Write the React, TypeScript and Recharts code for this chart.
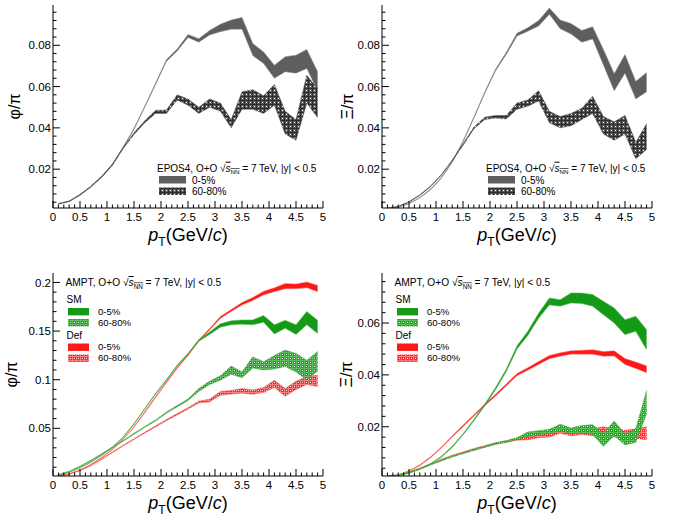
import React from "react";
import { ComposedChart, Area, XAxis, YAxis, Legend } from "recharts";

const FONT = '"Liberation Sans", Arial, Helvetica, sans-serif';

// pT bin centres, GeV/c
const ptBins = [
  0.1, 0.3, 0.5, 0.7, 0.9, 1.1, 1.3, 1.5, 1.7, 1.9, 2.1, 2.3, 2.5, 2.7, 2.9,
  3.1, 3.3, 3.5, 3.7, 3.9, 4.1, 4.3, 4.5, 4.7, 4.9,
];

const xMajor = [0, 0.5, 1, 1.5, 2, 2.5, 3, 3.5, 4, 4.5, 5];
const xMajorLabels = ["0", "0.5", "1", "1.5", "2", "2.5", "3", "3.5", "4", "4.5", "5"];

const yMajorEpos = [0.02, 0.04, 0.06, 0.08];
const yLabelsEpos = ["0.02", "0.04", "0.06", "0.08"];
const yMajorAmptPhi = [0.05, 0.1, 0.15, 0.2];
const yLabelsAmptPhi = ["0.05", "0.1", "0.15", "0.2"];
const yMajorAmptXi = [0.02, 0.04, 0.06];
const yLabelsAmptXi = ["0.02", "0.04", "0.06"];

const yDomainEpos = [0.0012, 0.0995];
const yDomainAmptPhi = [0.001, 0.2097];
const yDomainAmptXi = [0.001, 0.0793];

const centLabels = ["0-5%", "60-80%"];
const modelLabels = ["SM", "Def"];

// bands as [low, high]
// EPOS4 phi/pi
const eposPhi05 = [
  [0.0031, 0.0034], [0.0043, 0.0046], [0.0074, 0.0077], [0.0114, 0.0117], [0.0162, 0.0166],
  [0.0222, 0.0226], [0.0302, 0.0308], [0.0392, 0.0398], [0.05, 0.0506], [0.061, 0.0617],
  [0.0722, 0.073], [0.0772, 0.0782], [0.0838, 0.0852], [0.0815, 0.0832], [0.085, 0.0872],
  [0.0866, 0.0902], [0.0878, 0.0922], [0.0878, 0.0935], [0.075, 0.0808], [0.0712, 0.0768],
  [0.064, 0.0703], [0.0672, 0.0745], [0.0665, 0.0752], [0.0688, 0.078], [0.058, 0.0672],
];
const eposPhi6080 = [
  [0.0031, 0.0034], [0.0043, 0.0046], [0.0074, 0.0077], [0.0114, 0.0117], [0.016, 0.0164],
  [0.0218, 0.0223], [0.03, 0.0306], [0.0368, 0.0376], [0.0425, 0.0435], [0.047, 0.0485],
  [0.047, 0.0487], [0.0535, 0.056], [0.051, 0.054], [0.047, 0.05], [0.05, 0.054],
  [0.048, 0.052], [0.04, 0.044], [0.049, 0.0575], [0.049, 0.0585], [0.047, 0.0555],
  [0.051, 0.061], [0.037, 0.048], [0.034, 0.044], [0.052, 0.0655], [0.045, 0.059],
];
// EPOS4 Xi/pi
const eposXi05 = [
  [0.0008, 0.001], [0.0016, 0.0018], [0.0032, 0.0035], [0.006, 0.0063], [0.01, 0.0104],
  [0.0156, 0.016], [0.0232, 0.0237], [0.033, 0.0336], [0.0445, 0.0452], [0.0565, 0.0572],
  [0.0675, 0.0683], [0.0755, 0.0765], [0.0845, 0.0858], [0.0868, 0.0885], [0.0893, 0.092],
  [0.095, 0.098], [0.088, 0.0922], [0.0855, 0.0905], [0.0815, 0.0872], [0.083, 0.089],
  [0.0705, 0.078], [0.058, 0.0662], [0.0665, 0.0755], [0.054, 0.0625], [0.0575, 0.0668],
];
const eposXi6080 = [
  [0.0009, 0.0011], [0.0018, 0.002], [0.004, 0.0043], [0.0073, 0.0076], [0.0115, 0.0119],
  [0.017, 0.0174], [0.024, 0.0245], [0.0315, 0.0322], [0.0395, 0.0403], [0.044, 0.0452],
  [0.0448, 0.046], [0.0443, 0.046], [0.049, 0.052], [0.0505, 0.0535], [0.053, 0.058],
  [0.0425, 0.048], [0.04, 0.0455], [0.041, 0.047], [0.044, 0.0495], [0.047, 0.0553],
  [0.037, 0.0455], [0.034, 0.043], [0.037, 0.046], [0.025, 0.033], [0.0295, 0.042],
];
// AMPT phi/pi
const amptPhiSm05 = [
  [0.0018, 0.0022], [0.0045, 0.005], [0.0092, 0.0098], [0.015, 0.0157], [0.022, 0.0228],
  [0.03, 0.0308], [0.0405, 0.0414], [0.054, 0.055], [0.0695, 0.0706], [0.085, 0.0862],
  [0.099, 0.1003], [0.1138, 0.1152], [0.1258, 0.1272], [0.1395, 0.1412], [0.1465, 0.149],
  [0.154, 0.1575], [0.1565, 0.1605], [0.157, 0.1615], [0.1565, 0.1615], [0.159, 0.166],
  [0.147, 0.1565], [0.153, 0.161], [0.1465, 0.1565], [0.1565, 0.17], [0.1475, 0.161],
];
const amptPhiSm6080 = [
  [0.002, 0.0025], [0.0055, 0.006], [0.0105, 0.0112], [0.0165, 0.0172], [0.0232, 0.024],
  [0.03, 0.0308], [0.0368, 0.0376], [0.044, 0.045], [0.051, 0.052], [0.0575, 0.0587],
  [0.0655, 0.0668], [0.072, 0.0735], [0.0785, 0.0802], [0.088, 0.091], [0.095, 0.0985],
  [0.0995, 0.104], [0.1055, 0.114], [0.102, 0.108], [0.112, 0.1235], [0.11, 0.1185],
  [0.111, 0.125], [0.1135, 0.1305], [0.108, 0.127], [0.1, 0.12], [0.109, 0.129],
];
const amptPhiDef05 = [
  [0.001, 0.0013], [0.003, 0.0034], [0.007, 0.0075], [0.0125, 0.0131], [0.0195, 0.0202],
  [0.028, 0.0288], [0.0385, 0.0394], [0.051, 0.052], [0.066, 0.0672], [0.0815, 0.0828],
  [0.0965, 0.0978], [0.1115, 0.1128], [0.1245, 0.126], [0.1395, 0.141], [0.151, 0.1527],
  [0.163, 0.165], [0.17, 0.1722], [0.1768, 0.1795], [0.1815, 0.1845], [0.1872, 0.191],
  [0.1905, 0.1945], [0.1935, 0.199], [0.1935, 0.1985], [0.1945, 0.2005], [0.1905, 0.197],
];
const amptPhiDef6080 = [
  [0.001, 0.0013], [0.0028, 0.0032], [0.0065, 0.007], [0.0115, 0.0121], [0.018, 0.0187],
  [0.025, 0.0258], [0.0318, 0.0326], [0.0385, 0.0394], [0.045, 0.046], [0.0515, 0.0526],
  [0.0578, 0.059], [0.0638, 0.0652], [0.0698, 0.0712], [0.076, 0.078], [0.0772, 0.08],
  [0.084, 0.088], [0.0852, 0.089], [0.0862, 0.091], [0.085, 0.0895], [0.0868, 0.092],
  [0.092, 0.0995], [0.083, 0.091], [0.09, 0.0985], [0.095, 0.1035], [0.093, 0.1045],
];
// AMPT Xi/pi
const amptXiSm05 = [
  [0.0008, 0.001], [0.0011, 0.0013], [0.002, 0.0023], [0.0035, 0.0038], [0.0055, 0.0058],
  [0.0082, 0.0086], [0.012, 0.0125], [0.0168, 0.0173], [0.0222, 0.0228], [0.028, 0.0287],
  [0.0342, 0.035], [0.0412, 0.0422], [0.05, 0.0512], [0.0552, 0.0568], [0.0618, 0.0638],
  [0.067, 0.0697], [0.0665, 0.069], [0.0677, 0.0716], [0.0675, 0.0716], [0.0665, 0.071],
  [0.0632, 0.0684], [0.06, 0.0658], [0.0555, 0.0613], [0.0568, 0.0626], [0.0497, 0.0574],
];
const amptXiSm6080 = [
  [0.0008, 0.001], [0.0012, 0.0014], [0.0022, 0.0025], [0.0036, 0.0039], [0.0052, 0.0055],
  [0.0068, 0.0072], [0.0083, 0.0087], [0.0096, 0.01], [0.0108, 0.0113], [0.012, 0.0125],
  [0.0132, 0.0138], [0.014, 0.0146], [0.015, 0.0158], [0.0163, 0.018], [0.017, 0.0185],
  [0.0172, 0.019], [0.0185, 0.021], [0.0172, 0.0195], [0.0175, 0.0205], [0.017, 0.0208],
  [0.0125, 0.0175], [0.0165, 0.0222], [0.013, 0.0172], [0.014, 0.0192], [0.025, 0.034],
];
const amptXiDef05 = [
  [0.0009, 0.0011], [0.0013, 0.0015], [0.0028, 0.0031], [0.005, 0.0053], [0.008, 0.0084],
  [0.0118, 0.0122], [0.016, 0.0165], [0.02, 0.0206], [0.024, 0.0246], [0.028, 0.0287],
  [0.0318, 0.0325], [0.0357, 0.0365], [0.0397, 0.0405], [0.0418, 0.0428], [0.044, 0.0452],
  [0.0462, 0.0475], [0.0472, 0.0485], [0.048, 0.0493], [0.048, 0.0495], [0.048, 0.0497],
  [0.0472, 0.049], [0.0473, 0.0493], [0.044, 0.0463], [0.0425, 0.045], [0.0408, 0.0435],
];
const amptXiDef6080 = [
  [0.0008, 0.001], [0.0012, 0.0014], [0.0023, 0.0026], [0.0038, 0.0041], [0.0055, 0.0058],
  [0.0071, 0.0075], [0.0086, 0.009], [0.0099, 0.0103], [0.0111, 0.0116], [0.0122, 0.0127],
  [0.0132, 0.0138], [0.014, 0.0146], [0.0148, 0.0156], [0.015, 0.0166], [0.0158, 0.0172],
  [0.016, 0.0176], [0.0175, 0.0195], [0.0165, 0.0185], [0.017, 0.019], [0.0165, 0.0192],
  [0.0172, 0.02], [0.016, 0.0192], [0.0162, 0.0186], [0.0155, 0.0192], [0.015, 0.02],
];

const GRAY = "#5e5e5e";
const GREEN = "#159a18";
const RED = "#ff1616";

const W = 330;
const H = 260;
const PLOT = { left: 53, right: 323, top: 5, bottom: 208 };

// ROOT style: major ticks with 5 minor divisions, drawn inside the frame
function withMinor(major: number[], parts: number, lo: number, hi: number) {
  const step = (major[1] - major[0]) / parts;
  const out: number[] = [];
  let v = major[0];
  while (v - step >= lo) v -= step;
  for (; v <= hi + 1e-9; v += step) out.push(Number(v.toFixed(6)));
  return out;
}

function labelFor(v: number, major: number[], labels: string[]) {
  const i = major.findIndex((m) => Math.abs(m - v) < 1e-7);
  return i >= 0 ? labels[i] : null;
}

function Hatch({ id, base, line }: { id: string; base: string; line: string }) {
  return (
    <pattern id={id} width={4} height={4} patternUnits="userSpaceOnUse">
      <rect width={4} height={4} fill={base} />
      <rect width={4} height={1} fill={line} />
      <rect width={1} height={4} fill={line} />
      <rect x={2} y={2} width={1} height={1} fill="#fff" />
    </pattern>
  );
}

function Header({ x, y, size, model }: { x: number; y: number; size: number; model: string }) {
  return (
    <text x={x} y={y} fontSize={size} fontFamily={FONT} fill="#000">
      {model + ", O+O \u221A"}
      <tspan fontStyle="italic" textDecoration="overline">s</tspan>
      <tspan fontSize={size * 0.62} dy={2.5} textDecoration="overline">NN</tspan>
      <tspan dy={-2.5}>{" = 7 TeV, |y| < 0.5"}</tspan>
    </text>
  );
}

function EposLegend({ pid }: { pid: string }) {
  return (
    <svg width={W} height={H} style={{ position: "absolute", left: 0, top: 0 }}>
      <Header x={157} y={171.7} size={10} model="EPOS4" />
      <rect x={159} y={176} width={27} height={7.5} fill={GRAY} />
      <text x={192} y={183.5} fontSize={10} fontFamily={FONT}>{centLabels[0]}</text>
      <rect x={159} y={187.5} width={27} height={7.5} fill={`url(#${pid}-hg)`} />
      <text x={192} y={195} fontSize={10} fontFamily={FONT}>{centLabels[1]}</text>
    </svg>
  );
}

function AmptLegend({ pid }: { pid: string }) {
  const groups = [
    { name: modelLabels[0], solid: GREEN, hatch: `url(#${pid}-hgr)`, y: 35 },
    { name: modelLabels[1], solid: RED, hatch: `url(#${pid}-hr)`, y: 70.5 },
  ];
  return (
    <svg width={W} height={H} style={{ position: "absolute", left: 0, top: 0 }}>
      <Header x={65.5} y={18} size={10.2} model="AMPT" />
      {groups.map((g) => (
        <g key={g.name}>
          <text x={66.5} y={g.y} fontSize={10} fontFamily={FONT}>{g.name}</text>
          <rect x={68} y={g.y + 5} width={21} height={7.4} fill={g.solid} />
          <text x={98} y={g.y + 11.5} fontSize={9.6} fontFamily={FONT}>{centLabels[0]}</text>
          <rect x={68} y={g.y + 16} width={21} height={7.4} fill={g.hatch} />
          <text x={98} y={g.y + 22.5} fontSize={9.6} fontFamily={FONT}>{centLabels[1]}</text>
        </g>
      ))}
    </svg>
  );
}

type Band = { key: string; data: number[][]; fill: string; stroke: string };

function Panel({
  pid, left, top, yTitle, titleX, yDomain, yMajor, yLabels, yParts, bands, legend,
}: {
  pid: string; left: number; top: number; yTitle: string; titleX: number;
  yDomain: number[]; yMajor: number[]; yLabels: string[]; yParts: number;
  bands: Band[]; legend: React.ReactNode;
}) {
  const rows = ptBins.map((pt, i) => {
    const r: any = { pt };
    bands.forEach((b) => (r[b.key] = b.data[i]));
    return r;
  });
  const xTicks = withMinor(xMajor, 5, 0, 5);
  const yTicks = withMinor(yMajor, yParts, yDomain[0], yDomain[1]);

  const xTick = (p: any) => {
    const lab = labelFor(p.payload.value, xMajor, xMajorLabels);
    return (
      <g>
        <line x1={p.x} x2={p.x} y1={p.y} y2={p.y - (lab ? 7 : 3.5)} stroke="#000" />
        {lab && (
          <text x={p.x} y={p.y + 12.5} textAnchor="middle" fontSize={11.5} fontFamily={FONT} fill="#000">
            {lab}
          </text>
        )}
      </g>
    );
  };
  const yTick = (p: any) => {
    const lab = labelFor(p.payload.value, yMajor, yLabels);
    return (
      <g>
        <line x1={p.x} x2={p.x + (lab ? 7 : 3.5)} y1={p.y} y2={p.y} stroke="#000" />
        {lab && (
          <text x={p.x - 2} y={p.y} dy="0.36em" textAnchor="end" fontSize={11.5} fontFamily={FONT} fill="#000">
            {lab}
          </text>
        )}
      </g>
    );
  };
  const xTitle = () => (
    <text x={(PLOT.left + PLOT.right) / 2} y={PLOT.bottom + 33} textAnchor="middle" fontSize={18} fontFamily={FONT} fill="#000">
      <tspan fontStyle="italic">p</tspan>
      <tspan fontSize={12} dy={5}>T</tspan>
      <tspan dy={-5}>(GeV/</tspan>
      <tspan fontStyle="italic">c</tspan>
      <tspan>)</tspan>
    </text>
  );
  const cy = (PLOT.top + PLOT.bottom) / 2;
  const yTitleEl = () => (
    <text x={titleX} y={cy} transform={`rotate(-90, ${titleX}, ${cy})`} textAnchor="middle" dominantBaseline="central" fontSize={16} fontFamily={FONT} fill="#000">
      {yTitle}
    </text>
  );

  return (
    <div style={{ position: "absolute", left, top, width: W, height: H }}>
      <ComposedChart width={W} height={H} data={rows} margin={{ top: PLOT.top, right: W - PLOT.right, bottom: 0, left: 0 }}>
        <defs>
          <Hatch id={`${pid}-hg`} base="#5a5a5a" line="#2e2e2e" />
          <Hatch id={`${pid}-hgr`} base="#2a9f2a" line="#5cbd5c" />
          <Hatch id={`${pid}-hr`} base="#ff2a2a" line="#ff7a7a" />
        </defs>
        <XAxis
          dataKey="pt" type="number" domain={[0, 5]} ticks={xTicks} interval={0}
          tickSize={0} tickMargin={0} tickLine={false} allowDataOverflow
          height={H - PLOT.bottom} axisLine={{ stroke: "#000" }} tick={xTick} label={xTitle}
        />
        <XAxis
          xAxisId="top" orientation="top" dataKey="pt" type="number" domain={[0, 5]}
          height={0} tick={false} tickLine={false} axisLine={{ stroke: "#000" }}
        />
        <YAxis
          type="number" domain={yDomain} ticks={yTicks} interval={0} width={PLOT.left}
          tickSize={0} tickMargin={0} tickLine={false} allowDataOverflow
          axisLine={{ stroke: "#000" }} tick={yTick} label={yTitleEl}
        />
        <YAxis
          yAxisId="right" orientation="right" type="number" domain={yDomain} allowDataOverflow
          width={0} tick={false} tickLine={false} axisLine={{ stroke: "#000" }}
        />
        {bands.map((b) => (
          <Area
            key={b.key} dataKey={b.key} type="linear" fill={b.fill} fillOpacity={1}
            stroke={b.stroke} strokeWidth={0.5} dot={false} activeDot={false}
            isAnimationActive={false}
          />
        ))}
        <Legend
          layout="vertical" align="center" verticalAlign="middle"
          wrapperStyle={{ left: 0, top: 0, width: W, height: H, pointerEvents: "none" }}
          content={() => legend}
        />
      </ComposedChart>
    </div>
  );
}

export default function App() {
  return (
    <div style={{ position: "absolute", left: 0, top: 0, width: 675, height: 517, background: "#fff", fontFamily: FONT }}>
      <Panel
        pid="p1" left={0} top={0} yTitle={"\u03C6/\u03C0"} titleX={14}
        yDomain={yDomainEpos} yMajor={yMajorEpos} yLabels={yLabelsEpos} yParts={5}
        bands={[
          { key: "c05", data: eposPhi05, fill: GRAY, stroke: "#8a8a8a" },
          { key: "c6080", data: eposPhi6080, fill: "url(#p1-hg)", stroke: "#555" },
        ]}
        legend={<EposLegend pid="p1" />}
      />
      <Panel
        pid="p2" left={329} top={0} yTitle={"\u039E/\u03C0"} titleX={18}
        yDomain={yDomainEpos} yMajor={yMajorEpos} yLabels={yLabelsEpos} yParts={5}
        bands={[
          { key: "c05", data: eposXi05, fill: GRAY, stroke: "#8a8a8a" },
          { key: "c6080", data: eposXi6080, fill: "url(#p2-hg)", stroke: "#555" },
        ]}
        legend={<EposLegend pid="p2" />}
      />
      <Panel
        pid="p3" left={0} top={268} yTitle={"\u03C6/\u03C0"} titleX={11}
        yDomain={yDomainAmptPhi} yMajor={yMajorAmptPhi} yLabels={yLabelsAmptPhi} yParts={5}
        bands={[
          { key: "def05", data: amptPhiDef05, fill: RED, stroke: "#ff8080" },
          { key: "def6080", data: amptPhiDef6080, fill: "url(#p3-hr)", stroke: "#ff5050" },
          { key: "sm05", data: amptPhiSm05, fill: GREEN, stroke: "#5cb85c" },
          { key: "sm6080", data: amptPhiSm6080, fill: "url(#p3-hgr)", stroke: "#3aa83a" },
        ]}
        legend={<AmptLegend pid="p3" />}
      />
      <Panel
        pid="p4" left={329} top={268} yTitle={"\u039E/\u03C0"} titleX={17}
        yDomain={yDomainAmptXi} yMajor={yMajorAmptXi} yLabels={yLabelsAmptXi} yParts={5}
        bands={[
          { key: "def05", data: amptXiDef05, fill: RED, stroke: "#ff8080" },
          { key: "def6080", data: amptXiDef6080, fill: "url(#p4-hr)", stroke: "#ff5050" },
          { key: "sm05", data: amptXiSm05, fill: GREEN, stroke: "#5cb85c" },
          { key: "sm6080", data: amptXiSm6080, fill: "url(#p4-hgr)", stroke: "#3aa83a" },
        ]}
        legend={<AmptLegend pid="p4" />}
      />
    </div>
  );
}
